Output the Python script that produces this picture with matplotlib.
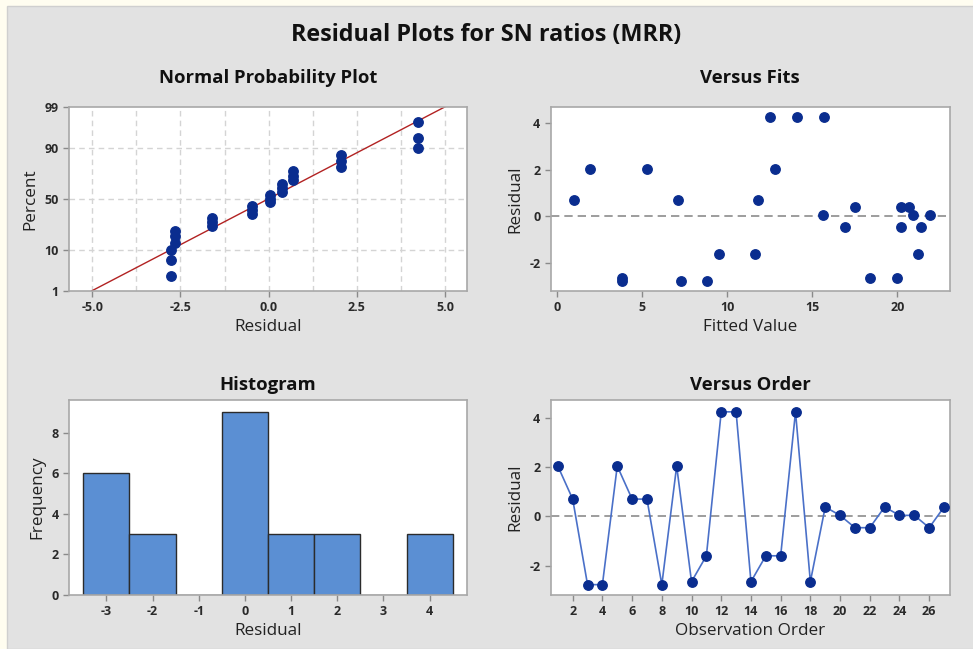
import numpy as np
import matplotlib
matplotlib.use("Agg")
import matplotlib.pyplot as plt
from statistics import NormalDist

# residuals and fitted values by observation order (27 runs)
order = list(range(1, 28))
resid = [2.04, 0.70, -2.77, -2.77, 2.04, 0.70, 0.70, -2.77, 2.04, -2.65,
         -1.60, 4.24, 4.24, -2.65, -1.60, -1.60, 4.24, -2.65, 0.38, 0.04,
         -0.46, -0.46, 0.38, 0.04, 0.04, -0.46, 0.38]
fitted = [1.9, 1.0, 3.8, 7.3, 5.3, 7.1, 11.8, 8.8, 12.8, 3.8,
          9.5, 12.5, 14.1, 18.4, 11.6, 21.2, 15.7, 20.0, 17.5, 15.6,
          16.9, 20.2, 20.2, 20.9, 21.9, 21.4, 20.7]
pct_ticks = [1, 10, 50, 90, 99]
hist_bins = [-3.5, -2.5, -1.5, -0.5, 0.5, 1.5, 2.5, 3.5, 4.5]

plt.rcParams['font.family'] = ['Open Sans', 'DejaVu Sans']
plt.rcParams['axes.unicode_minus'] = False
bg = '#e2e2e2'
pt_col = '#0a2d8f'
spine_col = '#a8a8a8'

fig = plt.figure(figsize=(9.73, 6.49), dpi=100)
fig.patch.set_facecolor('#fffdf0')
# gray panel behind everything
fig.patches.append(plt.Rectangle((7/973, 0), 1, 1 - 6/649, transform=fig.transFigure,
                                 facecolor=bg, edgecolor='#cfcfcf', lw=1, zorder=-10))

fig.text(0.5, 1 - 35/649, 'Residual Plots for SN ratios (MRR)', ha='center', va='center',
         fontsize=16.8, fontweight='bold', color='#111111')


def style(ax, title, xlabel, ylabel, tpad):
    ax.set_facecolor('white')
    for s in ax.spines.values():
        s.set_color(spine_col)
        s.set_linewidth(1.2)
    ax.tick_params(colors='#8a8a8a', labelcolor='#2a2a2a', labelsize=9, length=4, width=1)
    for lab in ax.get_xticklabels() + ax.get_yticklabels():
        lab.set_fontweight('bold')
    ax.set_title(title, fontsize=13.3, fontweight='bold', color='#111111', pad=tpad)
    ax.set_xlabel(xlabel, fontsize=12.3, color='#222222', labelpad=3)
    ax.set_ylabel(ylabel, fontsize=12.3, color='#222222', labelpad=4)


ax1 = fig.add_axes([69/973, 1 - 291/649, 398/973, 184.3/649])
ax2 = fig.add_axes([550.7/973, 1 - 291/649, 399.3/973, 184.3/649])
ax3 = fig.add_axes([69/973, 1 - 595/649, 398/973, 195/649])
ax4 = fig.add_axes([550.7/973, 1 - 595/649, 399.3/973, 195/649])

# normal probability plot (median ranks)
nd = NormalDist()
r = np.sort(np.array(resid))
n = len(r)
z = np.array([nd.inv_cdf((i - 0.3) / (n + 0.4)) for i in range(1, n + 1)])
mu, sd = r.mean(), r.std(ddof=1)
zlim = nd.inv_cdf(0.99)
zl = np.array([-zlim, zlim])
for xv in np.arange(-5, 5.01, 1.25):
    ax1.axvline(xv, color='#d4d4d4', ls=(0, (4, 3)), lw=1, zorder=0)
for p in [10, 50, 90]:
    ax1.axhline(nd.inv_cdf(p / 100), color='#d4d4d4', ls=(0, (4, 3)), lw=1, zorder=0)
ax1.plot(mu + sd * zl, zl, color='#b22222', lw=1, zorder=2)
ax1.plot(r, z, 'o', color=pt_col, ms=6.8, zorder=3)
ax1.set_xlim(-5.66, 5.62)
ax1.set_ylim(-zlim, zlim)
ax1.set_xticks([-5, -2.5, 0, 2.5, 5])
ax1.set_xticklabels(['-5.0', '-2.5', '0.0', '2.5', '5.0'])
ax1.set_yticks([nd.inv_cdf(p / 100) for p in pct_ticks])
ax1.set_yticklabels([str(p) for p in pct_ticks])
style(ax1, 'Normal Probability Plot', 'Residual', 'Percent', 17)

# versus fits
ax2.axhline(0, color='#8c8c8c', ls=(0, (5, 3)), lw=1.2, zorder=1)
ax2.plot(fitted, resid, 'o', color=pt_col, ms=6.8, zorder=3)
ax2.set_xlim(-0.39, 23.1)
ax2.set_ylim(-3.2, 4.7)
ax2.set_xticks([0, 5, 10, 15, 20])
ax2.set_yticks([-2, 0, 2, 4])
style(ax2, 'Versus Fits', 'Fitted Value', 'Residual', 17)

# histogram
ax3.hist(resid, bins=hist_bins, color='#5b8fd3', edgecolor='#2b2b2b', lw=1, zorder=2)
ax3.set_xlim(-3.81, 4.81)
ax3.set_ylim(0, 9.6)
ax3.set_xticks(range(-3, 5))
ax3.set_yticks([0, 2, 4, 6, 8])
style(ax3, 'Histogram', 'Residual', 'Frequency', 7)

# versus order
ax4.axhline(0, color='#8c8c8c', ls=(0, (5, 3)), lw=1.2, zorder=1)
ax4.plot(order, resid, '-', color='#4a70c8', lw=1.2, zorder=2)
ax4.plot(order, resid, 'o', color=pt_col, ms=6.8, zorder=3)
ax4.set_xlim(0.52, 27.4)
ax4.set_ylim(-3.19, 4.72)
ax4.set_xticks(range(2, 27, 2))
ax4.set_yticks([-2, 0, 2, 4])
style(ax4, 'Versus Order', 'Observation Order', 'Residual', 7)

fig.savefig('out.png', dpi=100, facecolor=fig.get_facecolor())
